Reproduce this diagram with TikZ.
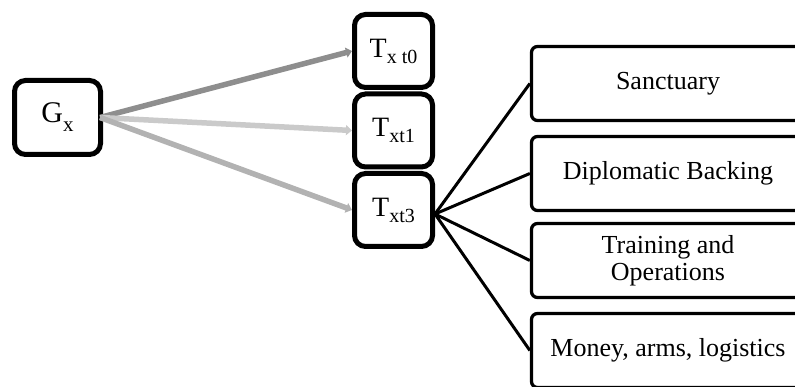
\documentclass[tikz,border=0pt]{standalone}
\usepackage{fontspec}
\setmainfont{Liberation Serif}
\usetikzlibrary{arrows.meta}
\definecolor{arrA}{HTML}{8E8E8E}
\definecolor{arrB}{HTML}{CACACA}
\definecolor{arrC}{HTML}{B2B2B2}
\newcommand{\Tlab}[1]{\fontsize{28}{28}\selectfont T\raisebox{-6pt}{\fontsize{20}{20}\selectfont #1}}
\begin{document}
\begin{tikzpicture}[x=1pt,y=-1pt,
  tbox/.style={draw=black,line width=5pt,rounded corners=11pt,fill=white,
    minimum width=78pt,minimum height=73pt,inner sep=0pt},
  gbox/.style={tbox,minimum width=86pt,minimum height=74pt},
  rbox/.style={draw=black,line width=3.3pt,rounded corners=6pt,fill=white,
    minimum width=273pt,minimum height=74pt,inner sep=0pt,align=center,
    font=\fontsize{26}{27}\selectfont},
  arr/.style={line width=5.5pt,-{Triangle[length=6pt,width=10pt]}},
  fan/.style={line width=3pt,black}]
\useasboundingbox (0,0) rectangle (795,387);
\clip (0,0) rectangle (795,387);
% right boxes
\node[rbox] (s) at (668,83.5) {Sanctuary};
\node[rbox] (d) at (668,173.5) {Diplomatic Backing};
\node[rbox] (tr) at (668,260.5) {\fontsize{26}{25}\selectfont Training and\\Operations};
\node[rbox] (m) at (668,350.5) {Money, arms, logistics};
% left
\node[gbox] (g) at (57.5,117.5) {\fontsize{30}{30}\selectfont G\raisebox{-9pt}{\fontsize{21}{21}\selectfont x}};
\coordinate (gs) at ([xshift=-3pt]g.east);
\node[tbox] (t0) at (393.5,51) {\Tlab{x t0}};
\node[tbox] (t1) at (393.5,130.5) {\Tlab{xt1}};
\node[tbox] (t3) at (393.5,210) {\Tlab{xt3}};
% arrows
\draw[arr,arrA] (gs) -- (t0.west);
\draw[arr,arrB] (gs) -- (t1.west);
\draw[arr,arrC] (gs) -- (t3.west);
% fan
\coordinate (fs) at ([yshift=-4pt]t3.east);
\draw[fan] (fs) -- (s.west);
\draw[fan] (fs) -- (d.west);
\draw[fan] (fs) -- (tr.west);
\draw[fan] (fs) -- (m.west);
\end{tikzpicture}
\end{document}
